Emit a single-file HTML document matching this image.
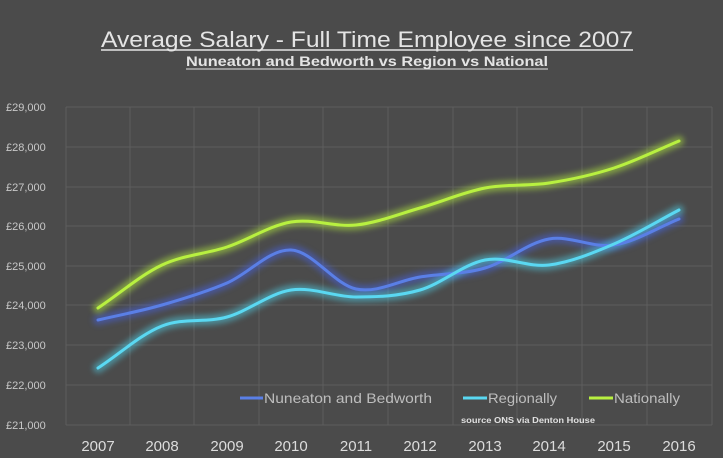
<!DOCTYPE html>
<html><head><meta charset="utf-8"><style>
body{margin:0;background:#4b4b4b;}
svg{display:block;font-family:"Liberation Sans",sans-serif;}
</style></head><body>
<svg width="723" height="458" viewBox="0 0 723 458">
<defs>
<filter id="g" x="-10%" y="-20%" width="120%" height="140%"><feGaussianBlur stdDeviation="3"/></filter>
</defs>
<rect width="723" height="458" fill="#4b4b4b"/>
<text x="101" y="47" font-size="22" fill="#e4e4e4" textLength="532" lengthAdjust="spacingAndGlyphs">Average Salary - Full Time Employee since 2007</text>
<line x1="101" y1="50" x2="633" y2="50" stroke="#e4e4e4" stroke-width="1.5"/>
<text x="186" y="66" font-size="14" font-weight="bold" fill="#e4e4e4" textLength="362" lengthAdjust="spacingAndGlyphs">Nuneaton and Bedworth vs Region vs National</text>
<line x1="186" y1="69" x2="548" y2="69" stroke="#e4e4e4" stroke-width="1"/>
<g stroke="#5e5e5e" stroke-width="1">
<line x1="66" y1="107" x2="712" y2="107"/><line x1="66" y1="147" x2="712" y2="147"/><line x1="66" y1="187" x2="712" y2="187"/><line x1="66" y1="226" x2="712" y2="226"/><line x1="66" y1="266" x2="712" y2="266"/><line x1="66" y1="305" x2="712" y2="305"/><line x1="66" y1="345" x2="712" y2="345"/><line x1="66" y1="385" x2="712" y2="385"/><line x1="66" y1="425" x2="712" y2="425"/>
<line x1="66" y1="107" x2="66" y2="425"/><line x1="130" y1="107" x2="130" y2="425"/><line x1="194" y1="107" x2="194" y2="425"/><line x1="259" y1="107" x2="259" y2="425"/><line x1="323" y1="107" x2="323" y2="425"/><line x1="388" y1="107" x2="388" y2="425"/><line x1="453" y1="107" x2="453" y2="425"/><line x1="517" y1="107" x2="517" y2="425"/><line x1="582" y1="107" x2="582" y2="425"/><line x1="647" y1="107" x2="647" y2="425"/><line x1="712" y1="107" x2="712" y2="425"/>
</g>
<g font-size="11" fill="#c8c8c8">
<text x="6" y="111">£29,000</text><text x="6" y="151">£28,000</text><text x="6" y="191">£27,000</text><text x="6" y="230">£26,000</text><text x="6" y="270">£25,000</text><text x="6" y="309">£24,000</text><text x="6" y="349">£23,000</text><text x="6" y="389">£22,000</text><text x="6" y="429">£21,000</text>
</g>
<g font-size="15" fill="#dcdcdc" text-anchor="middle">
<text x="98" y="451">2007</text><text x="162" y="451">2008</text><text x="227" y="451">2009</text><text x="291" y="451">2010</text><text x="356" y="451">2011</text><text x="420" y="451">2012</text><text x="485" y="451">2013</text><text x="549" y="451">2014</text><text x="614" y="451">2015</text><text x="679" y="451">2016</text>
</g>
<g fill="none" stroke-linecap="round">
<path d="M98,320 C119.5,315 140.5,311.2 162,305 C183.5,298.8 205.5,292.2 227,283 C248.5,273.8 269.5,249 291,250 C312.5,251 334.5,284.5 356,289 C377.5,293.5 398.5,280.5 420,277 C441.5,273.5 463.5,274.3 485,268 C506.5,261.7 527.5,242.8 549,239 C570.5,235.2 592.5,248.3 614,245 C635.5,241.7 657.5,227.7 679,219" stroke="#4660d8" stroke-width="10" opacity="0.55" filter="url(#g)"/>
<path d="M98,368 C119.5,354 140.5,334.5 162,326 C183.5,317.5 205.5,323 227,317 C248.5,311 269.5,293.3 291,290 C312.5,286.7 334.5,297 356,297 C377.5,297 398.5,296.2 420,290 C441.5,283.8 463.5,264.2 485,260 C506.5,255.8 527.5,267.7 549,265 C570.5,262.3 592.5,253.2 614,244 C635.5,234.8 657.5,221.3 679,210" stroke="#4fd0e8" stroke-width="10" opacity="0.5" filter="url(#g)"/>
<path d="M98,308 C119.5,293.7 140.5,275.2 162,265 C183.5,254.8 205.5,254.2 227,247 C248.5,239.8 269.5,225.7 291,222 C312.5,218.3 334.5,227.3 356,225 C377.5,222.7 398.5,214.2 420,208 C441.5,201.8 463.5,192.2 485,188 C506.5,183.8 527.5,186.3 549,183 C570.5,179.7 592.5,175 614,168 C635.5,161 657.5,150 679,141" stroke="#b6f03c" stroke-width="10" opacity="0.5" filter="url(#g)"/>
<path d="M98,320 C119.5,315 140.5,311.2 162,305 C183.5,298.8 205.5,292.2 227,283 C248.5,273.8 269.5,249 291,250 C312.5,251 334.5,284.5 356,289 C377.5,293.5 398.5,280.5 420,277 C441.5,273.5 463.5,274.3 485,268 C506.5,261.7 527.5,242.8 549,239 C570.5,235.2 592.5,248.3 614,245 C635.5,241.7 657.5,227.7 679,219" stroke="#5a7fe6" stroke-width="3"/>
<path d="M98,368 C119.5,354 140.5,334.5 162,326 C183.5,317.5 205.5,323 227,317 C248.5,311 269.5,293.3 291,290 C312.5,286.7 334.5,297 356,297 C377.5,297 398.5,296.2 420,290 C441.5,283.8 463.5,264.2 485,260 C506.5,255.8 527.5,267.7 549,265 C570.5,262.3 592.5,253.2 614,244 C635.5,234.8 657.5,221.3 679,210" stroke="#5ad8f2" stroke-width="3"/>
<path d="M98,308 C119.5,293.7 140.5,275.2 162,265 C183.5,254.8 205.5,254.2 227,247 C248.5,239.8 269.5,225.7 291,222 C312.5,218.3 334.5,227.3 356,225 C377.5,222.7 398.5,214.2 420,208 C441.5,201.8 463.5,192.2 485,188 C506.5,183.8 527.5,186.3 549,183 C570.5,179.7 592.5,175 614,168 C635.5,161 657.5,150 679,141" stroke="#b8f040" stroke-width="3"/>
</g>
<g font-size="14" fill="#bdbdbd">
<line x1="240" y1="398" x2="263" y2="398" stroke="#5a7fe6" stroke-width="3"/><text x="264" y="403" textLength="168" lengthAdjust="spacingAndGlyphs">Nuneaton and Bedworth</text>
<line x1="463" y1="398" x2="487" y2="398" stroke="#5ad8f2" stroke-width="3"/><text x="488" y="403" textLength="69" lengthAdjust="spacingAndGlyphs">Regionally</text>
<line x1="589" y1="398" x2="613" y2="398" stroke="#b8f040" stroke-width="3"/><text x="614" y="403" textLength="66" lengthAdjust="spacingAndGlyphs">Nationally</text>
</g>
<text x="461" y="423" font-size="8.5" font-weight="bold" fill="#e0e0e0" textLength="134" lengthAdjust="spacingAndGlyphs">source ONS via Denton House</text>
</svg>
</body></html>
